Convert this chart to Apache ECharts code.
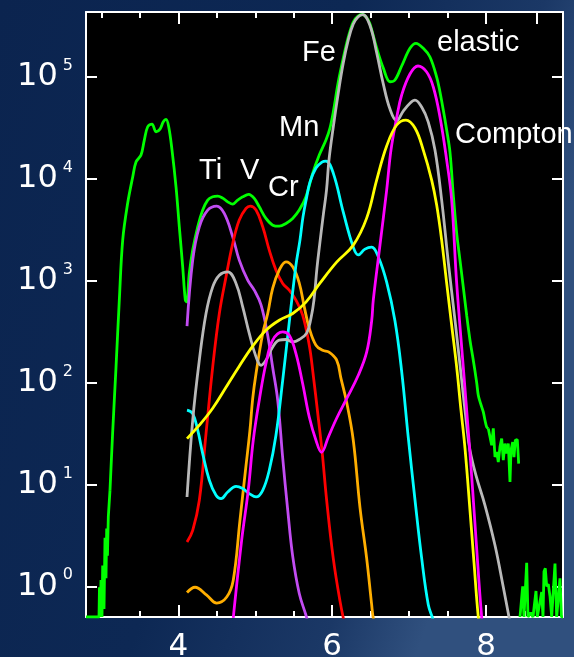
<!DOCTYPE html>
<html>
<head>
<meta charset="utf-8">
<script src="https://cdn.jsdelivr.net/npm/echarts@6/dist/echarts.min.js"></script>
<style>
  html, body { margin: 0; padding: 0; background: #0c2652; }
  #chart { width: 574px; height: 657px; }
</style>
</head>
<body>
<div id="chart"></div>
<script>
// Energy (keV) vs counts, fluorescence spectrum with fitted component lines.

// Measured spectrum: noisy floor at low energy
const measuredLow = [[2.800,0.5],[2.969,0.5],[2.975,0.98],[2.982,0.5],[2.995,1.15],[3.008,0.5],[3.017,1.6],[3.034,0.6],[3.047,3.0],[3.060,1.2],[3.069,3.7],[3.079,2.0],[3.090,4.8],[3.112,8.8]];
// Measured spectrum: main body
const measuredMain = [[3.112,8.8],[3.146,31.8],[3.190,141],[3.233,645],[3.277,2505],[3.342,5800],[3.407,10430],[3.450,14650],[3.515,17180],[3.558,24060],[3.602,32500],[3.658,34550],[3.710,29000],[3.762,30850],[3.805,36400],[3.840,38400],[3.875,32500],[3.918,19180],[3.970,8360],[4.013,3385],[4.057,1370],[4.091,645],[4.109,621],[4.143,1188],[4.187,2000],[4.252,3385],[4.317,4940],[4.382,6200],[4.447,6670],[4.512,6780],[4.577,6475],[4.642,5955],[4.707,5650],[4.772,6200],[4.837,6670],[4.915,7045],[4.987,6430],[5.052,5320],[5.139,4090],[5.227,3515],[5.312,3435],[5.399,3655],[5.486,4090],[5.572,4940],[5.659,6670],[5.746,11330],[5.832,17130],[5.919,24060],[5.971,31550],[6.014,45300],[6.079,89300],[6.144,153800],[6.209,247200],[6.274,346900],[6.335,397400],[6.396,411300],[6.452,379700],[6.491,331700],[6.578,192800],[6.664,122500],[6.751,89900],[6.816,93500],[6.903,128300],[7.011,191400],[7.089,214300],[7.184,191400],[7.271,157300],[7.358,100000],[7.401,71300],[7.444,47400],[7.488,30150],[7.531,18320],[7.574,6930],[7.618,2938],[7.661,1594],[7.704,865],[7.748,459],[7.791,261],[7.834,166],[7.878,100],[7.899,75],[7.921,65],[7.943,57.7],[7.964,51.6],[7.986,42.7],[8.008,36.7],[8.029,35.4]];
// Measured spectrum: noisy high-energy tail
const measuredTail = [[8.029,35.4],[8.051,34.1],[8.073,24.3],[8.094,35.6],[8.116,18.6],[8.138,20.9],[8.159,16.6],[8.181,23.4],[8.203,28.2],[8.224,17.3],[8.246,25.2],[8.268,20.1],[8.289,25.2],[8.311,10.6],[8.324,21.7],[8.346,26.1],[8.363,18.6],[8.380,27.2],[8.406,27.6],[8.424,16.0]];
// Measured spectrum: isolated counts near the top of the range
const measuredHigh = [[8.441,0.5],[8.476,1.0],[8.493,0.5],[8.528,1.7],[8.545,0.5],[8.580,0.55],[8.610,0.5],[8.649,0.9],[8.666,0.5],[8.723,0.88],[8.740,0.5],[8.753,1.4],[8.770,1.5],[8.788,1.0],[8.809,1.05],[8.831,0.8],[8.853,0.5],[8.896,1.67],[8.918,0.5],[8.939,0.5],[8.961,1.2],[8.980,0.5],[9.000,0.5]];

// Fitted components
const tiLine = [[4.113,358],[4.187,1594],[4.273,3386],[4.382,4940],[4.499,5408],[4.597,4583],[4.707,2700],[4.792,1594],[4.902,1014],[4.987,809],[5.075,580],[5.162,290],[5.227,140],[5.292,67],[5.357,18.1],[5.422,5.6],[5.487,1.97],[5.572,0.85],[5.659,0.52],[5.711,0.37]];
const vLine = [[4.113,2.72],[4.187,3.55],[4.273,7.0],[4.360,31.6],[4.447,143],[4.533,477],[4.620,1092],[4.707,2324],[4.792,3938],[4.880,5129],[4.935,5408],[5.010,4940],[5.097,3386],[5.182,2000],[5.269,1271],[5.357,941],[5.442,809],[5.529,645],[5.616,459],[5.702,233],[5.754,118],[5.815,47.8],[5.867,21.7],[5.928,7.0],[6.014,1.88],[6.101,0.72],[6.166,0.41]];
const crLine = [[4.113,0.87],[4.217,0.98],[4.369,0.82],[4.499,0.685],[4.629,0.785],[4.714,1.15],[4.801,4.45],[4.873,13.8],[4.931,34.1],[4.967,70],[5.010,123],[5.097,304],[5.162,477],[5.227,846],[5.312,1271],[5.399,1535],[5.487,1370],[5.572,947],[5.637,554],[5.702,342],[5.789,233],[5.876,208],[5.958,199],[6.058,166],[6.114,110],[6.188,64.2],[6.274,27.2],[6.361,5.97],[6.448,1.88],[6.513,0.66],[6.534,0.485],[6.569,0.37]];
const mnLine = [[4.113,53.6],[4.187,49.7],[4.252,34.1],[4.317,20.1],[4.403,11.0],[4.490,7.83],[4.555,7.27],[4.642,8.44],[4.750,9.60],[4.837,9.12],[4.922,8.14],[5.010,7.54],[5.097,8.77],[5.182,13.8],[5.269,30.4],[5.357,106],[5.442,392],[5.529,1422],[5.581,2506],[5.620,4217],[5.666,6475],[5.711,9300],[5.789,12770],[5.867,14630],[5.919,14960],[6.014,11400],[6.144,4720],[6.274,2138],[6.339,1792],[6.426,2044],[6.513,2138],[6.599,1718],[6.708,969],[6.816,403],[6.903,129],[6.989,28.8],[7.076,7.08],[7.163,1.89],[7.249,0.66],[7.306,0.485],[7.349,0.37]];
const feLine = [[4.113,7.54],[4.187,42.7],[4.273,166],[4.360,477],[4.447,871],[4.533,1135],[4.642,1223],[4.750,941],[4.837,554],[4.922,304],[5.010,179],[5.075,148],[5.139,166],[5.227,224],[5.312,261],[5.399,265],[5.487,251],[5.572,265],[5.668,306],[5.724,429],[5.763,645],[5.802,1330],[5.841,2394],[5.884,4410],[5.926,7762],[5.958,15300],[6.014,32270],[6.079,69660],[6.144,137400],[6.209,231000],[6.274,331700],[6.335,388300],[6.396,409400],[6.491,320600],[6.578,173300],[6.664,85700],[6.751,48500],[6.838,37220],[6.924,46360],[7.011,55300],[7.076,59300],[7.163,50700],[7.249,36100],[7.336,19180],[7.423,6190],[7.509,1524],[7.596,410],[7.683,106],[7.748,38.2],[7.791,21.7],[7.869,12.3],[7.986,6.25],[8.116,2.53],[8.220,1.02],[8.298,0.5],[8.337,0.35]];
const elasticLine = [[4.714,0.49],[4.823,2.83],[4.909,8.8],[4.974,27.2],[5.052,67.2],[5.139,154],[5.227,261],[5.357,315],[5.442,292],[5.529,193],[5.616,98],[5.702,46],[5.789,27.2],[5.861,20.7],[5.949,29.1],[6.058,44.7],[6.188,69.5],[6.339,118],[6.448,199],[6.513,403],[6.534,645],[6.621,2238],[6.708,7762],[6.764,19180],[6.837,39550],[6.903,66600],[7.011,107100],[7.115,128300],[7.228,112000],[7.314,79800],[7.401,40450],[7.488,15300],[7.553,6190],[7.618,947],[7.704,142],[7.778,27.2],[7.826,8.77],[7.875,2.53],[7.943,0.5],[7.973,0.35]];
const comptonLine = [[4.113,28.2],[4.273,38.2],[4.447,56],[4.620,90],[4.792,145],[4.967,228],[5.139,327],[5.312,410],[5.487,477],[5.659,617],[5.841,947],[6.058,1524],[6.274,2238],[6.448,4120],[6.578,9730],[6.708,21000],[6.838,33800],[6.959,37830],[7.076,31550],[7.184,19180],[7.293,9730],[7.358,5530],[7.423,2506],[7.488,947],[7.553,366],[7.618,142],[7.674,53.6],[7.726,22.7],[7.791,5.58],[7.843,1.72],[7.899,0.5],[7.934,0.33]];

// Axis ticks and labels
const xMajor = [4, 6, 8];
const xMinorBottom = [3, 3.5, 4.5, 5, 5.5, 6.5, 7, 7.5, 8.5];
const xMajorTop = [4, 6, 8, 8.66];
const xMinorTop = [3, 3.5, 4.5, 5, 5.5, 6.5, 7, 7.5];

// Peak annotations: [text, x, y]
const peakLabels = [
  ['Ti', 199, 171], ['V', 240, 171], ['Cr', 268, 188], ['Mn', 279, 128],
  ['Fe', 302, 53], ['elastic', 437, 43], ['Compton', 455, 135]
];

const WHITE = '#ffffff';
const FONT = '"Liberation Sans", Arial, sans-serif';
const AXIS_FONT = '"DejaVu Sans", sans-serif';

function lineSeries(name, data, color, smooth, z) {
  return {
    name, type: 'line', data, xAxisIndex: 0, yAxisIndex: 0,
    showSymbol: false, smooth: smooth, clip: true, z: z,
    lineStyle: { color, width: 2.8 }, emphasis: { disabled: true }
  };
}

const chart = echarts.init(document.getElementById('chart'), null, { renderer: 'canvas' });

const xBase = { type: 'value', min: 2.8, max: 9.0, splitLine: { show: false } };
const yBase = { type: 'log', logBase: 10, min: 0.5, max: 4.35e5, splitLine: { show: false } };

chart.setOption({
  animation: false,
  backgroundColor: new echarts.graphic.LinearGradient(0, 0, 1, 0.3, [
    { offset: 0, color: '#0b244f' },
    { offset: 0.55, color: '#0d2854' },
    { offset: 0.85, color: '#1b3866' },
    { offset: 1, color: '#30507e' }
  ]),
  grid: {
    left: 86, right: 11, top: 12, bottom: 40, containLabel: false, outerBoundsMode: 'none',
    show: true, backgroundColor: '#000000', borderWidth: 0
  },
  xAxis: [
    Object.assign({}, xBase, {
      position: 'bottom',
      axisLine: { show: true, onZero: false, lineStyle: { color: WHITE, width: 2 } },
      axisTick: { show: true, inside: true, length: 12, customValues: xMajor, lineStyle: { color: WHITE, width: 2 } },
      axisLabel: { show: true, customValues: xMajor, color: WHITE, fontSize: 31, fontFamily: AXIS_FONT, margin: 14 }
    }),
    Object.assign({}, xBase, {
      position: 'bottom',
      axisLine: { show: false, onZero: false },
      axisTick: { show: true, inside: true, length: 6, customValues: xMinorBottom, lineStyle: { color: WHITE, width: 2 } },
      axisLabel: { show: false }
    }),
    Object.assign({}, xBase, {
      position: 'top',
      axisLine: { show: true, onZero: false, lineStyle: { color: WHITE, width: 2 } },
      axisTick: { show: true, inside: true, length: 12, customValues: xMajorTop, lineStyle: { color: WHITE, width: 2 } },
      axisLabel: { show: false }
    }),
    Object.assign({}, xBase, {
      position: 'top',
      axisLine: { show: false, onZero: false },
      axisTick: { show: true, inside: true, length: 6, customValues: xMinorTop, lineStyle: { color: WHITE, width: 2 } },
      axisLabel: { show: false }
    })
  ],
  yAxis: [
    Object.assign({}, yBase, {
      position: 'left',
      axisLine: { show: true, onZero: false, lineStyle: { color: WHITE, width: 2 } },
      axisTick: { show: true, inside: true, length: 11, lineStyle: { color: WHITE, width: 2 } },
      axisLabel: {
        show: true, margin: 13, showMinLabel: false, showMaxLabel: false,
        formatter: function (v) {
          const e = Math.round(Math.log10(v));
          return '{m|10}{s|' + e + '}';
        },
        rich: {
          m: { color: WHITE, fontSize: 32, fontFamily: AXIS_FONT, lineHeight: 36 },
          s: { color: WHITE, fontSize: 16, fontFamily: AXIS_FONT, lineHeight: 16, padding: [0, 0, 22, 5] }
        }
      }
    }),
    Object.assign({}, yBase, {
      position: 'right',
      axisLine: { show: true, onZero: false, lineStyle: { color: WHITE, width: 2 } },
      axisTick: { show: true, inside: true, length: 11, lineStyle: { color: WHITE, width: 2 } },
      axisLabel: { show: false }
    })
  ],
  graphic: peakLabels.map(function (p) {
    return {
      type: 'text', x: p[1], y: p[2], z: 100,
      style: { text: p[0], fill: WHITE, font: '29px ' + FONT, textVerticalAlign: 'middle', verticalAlign: 'middle' }
    };
  }),
  series: [
    lineSeries('measured-low', measuredLow, '#00ff00', false, 2),
    lineSeries('measured', measuredMain, '#00ff00', 0.35, 2),
    lineSeries('measured-tail', measuredTail, '#00ff00', false, 2),
    lineSeries('measured-high', measuredHigh, '#00ff00', false, 2),
    lineSeries('Ti', tiLine, '#c24cf2', 0.4, 3),
    lineSeries('V', vLine, '#ff0000', 0.4, 3),
    lineSeries('Cr', crLine, '#ffae00', 0.4, 3),
    lineSeries('Mn', mnLine, '#00ffff', 0.4, 3),
    lineSeries('Fe', feLine, '#b9b9b9', 0.4, 3),
    lineSeries('elastic', elasticLine, '#ff00ff', 0.4, 3),
    lineSeries('Compton', comptonLine, '#ffff00', 0.4, 3)
  ]
});
</script>
</body>
</html>
